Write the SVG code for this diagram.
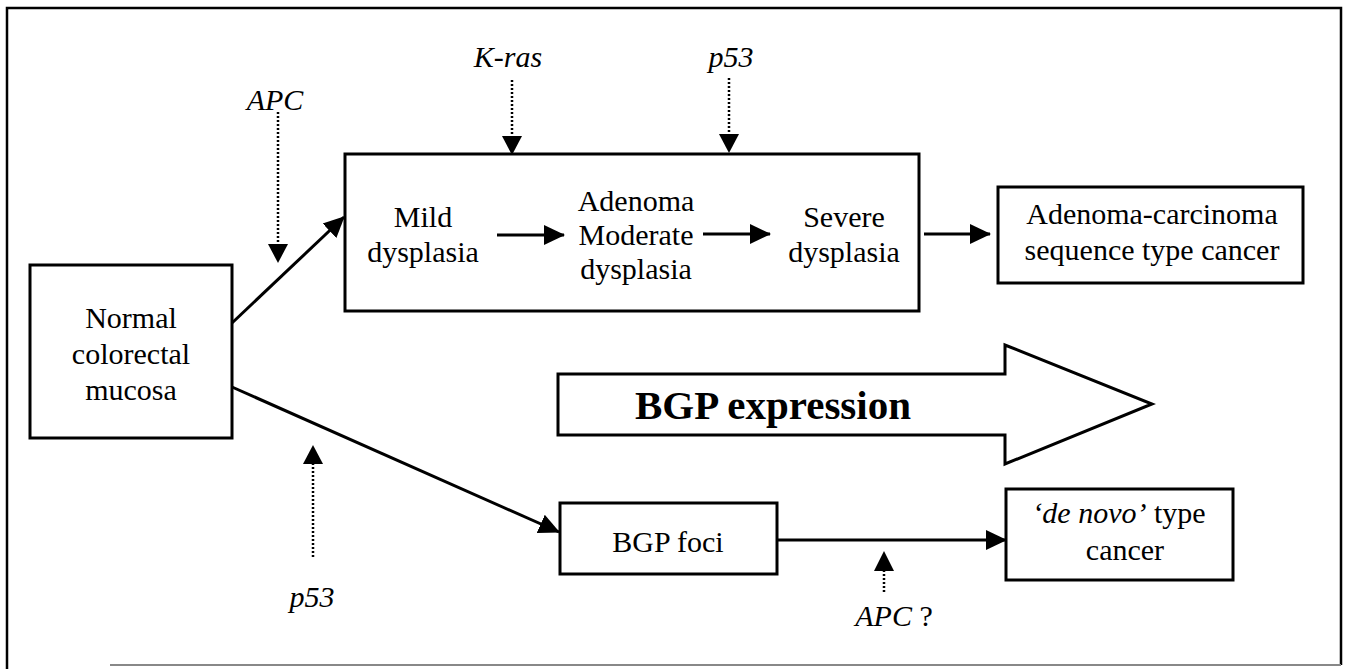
<svg xmlns="http://www.w3.org/2000/svg" width="1345" height="669" viewBox="0 0 1345 669">
<style>
.box{fill:none;stroke:#000;stroke-width:3}
.t{font-family:"Liberation Serif","Times New Roman",serif;font-size:30px;fill:#000;text-anchor:middle}
.i{font-style:italic}
.solid{stroke:#000;stroke-width:3;fill:none}
.dot{stroke:#000;stroke-width:2.5;fill:none;stroke-dasharray:2 2}
</style>
<defs>
<marker id="ah" markerUnits="userSpaceOnUse" markerWidth="22" markerHeight="22" viewBox="0 0 22 22" refX="20" refY="11" orient="auto">
<path d="M0,1 L21,11 L0,21 Z" fill="#000"/>
</marker>
</defs>
<rect width="1345" height="669" fill="#fff"/>
<g id="frame" fill="none">
<path d="M7,669 L7,8 L1341,8 L1341,665" stroke="#000" stroke-width="2.5"/>
<line x1="110" y1="665" x2="1341" y2="665" stroke="#888" stroke-width="2"/>
</g>
<g id="connectors">
<line class="solid" x1="232" y1="323" x2="344" y2="217" marker-end="url(#ah)"/>
<line class="solid" x1="232" y1="387" x2="559" y2="532" marker-end="url(#ah)"/>
<line class="solid" x1="497" y1="235" x2="564" y2="235" marker-end="url(#ah)"/>
<line class="solid" x1="703" y1="234" x2="770" y2="234" marker-end="url(#ah)"/>
<line class="solid" x1="924" y1="234" x2="990" y2="234" marker-end="url(#ah)"/>
<line class="solid" x1="777" y1="540" x2="1006" y2="540" marker-end="url(#ah)"/>
<line class="dot" x1="512" y1="80" x2="512" y2="136"/>
<path d="M502,136 L522,136 L512,155 Z" fill="#000"/>
<line class="dot" x1="729" y1="78" x2="729" y2="134"/>
<path d="M719,134 L739,134 L729,153 Z" fill="#000"/>
<line class="dot" x1="278" y1="112" x2="278" y2="244"/>
<path d="M268,244 L288,244 L278,263 Z" fill="#000"/>
<line class="dot" x1="313" y1="463" x2="313" y2="557"/>
<path d="M303,464 L323,464 L313,445 Z" fill="#000"/>
<line class="dot" x1="884" y1="570" x2="884" y2="594"/>
<path d="M874,571 L894,571 L884,551 Z" fill="#000"/>
</g>
<g id="labels">
<text class="t i" x="508" y="67">K-ras</text>
<text class="t i" x="731" y="67">p53</text>
<text class="t i" x="275" y="110">APC</text>
<text class="t i" x="312" y="607">p53</text>
<text class="t" x="894" y="626"><tspan font-style="italic">APC</tspan> ?</text>
</g>
<g id="normal">
<rect class="box" x="30" y="265" width="202" height="173"/>
<text class="t" x="131" y="328">Normal</text>
<text class="t" x="131" y="364">colorectal</text>
<text class="t" x="131" y="400">mucosa</text>
</g>
<g id="adenoma-box">
<rect class="box" x="345" y="154" width="574" height="157"/>
</g>
<g id="mild">
<text class="t" x="423" y="227">Mild</text>
<text class="t" x="423" y="262">dysplasia</text>
</g>
<g id="moderate">
<text class="t" x="636" y="211">Adenoma</text>
<text class="t" x="636" y="245">Moderate</text>
<text class="t" x="636" y="279">dysplasia</text>
</g>
<g id="severe">
<text class="t" x="844" y="227">Severe</text>
<text class="t" x="844" y="262">dysplasia</text>
</g>
<g id="ac-cancer">
<rect class="box" x="998" y="187" width="305" height="96"/>
<text class="t" x="1152" y="224">Adenoma-carcinoma</text>
<text class="t" x="1152" y="260">sequence type cancer</text>
</g>
<g id="bgp-expression">
<path d="M558,374 L1005,374 L1005,345 L1152,404 L1005,464 L1005,435 L558,435 Z" fill="#fff" stroke="#000" stroke-width="3" stroke-linejoin="miter"/>
<text x="773" y="419" font-family="'Liberation Serif','Times New Roman',serif" font-size="41" font-weight="bold" text-anchor="middle">BGP expression</text>
</g>
<g id="bgp-foci">
<rect class="box" x="560" y="503" width="217" height="71"/>
<text class="t" x="668" y="552">BGP foci</text>
</g>
<g id="de-novo">
<rect class="box" x="1006" y="489" width="227" height="91"/>
<text class="t" x="1119" y="523"><tspan font-style="italic">‘de novo’</tspan> type</text>
<text class="t" x="1125" y="560">cancer</text>
</g>
</svg>
